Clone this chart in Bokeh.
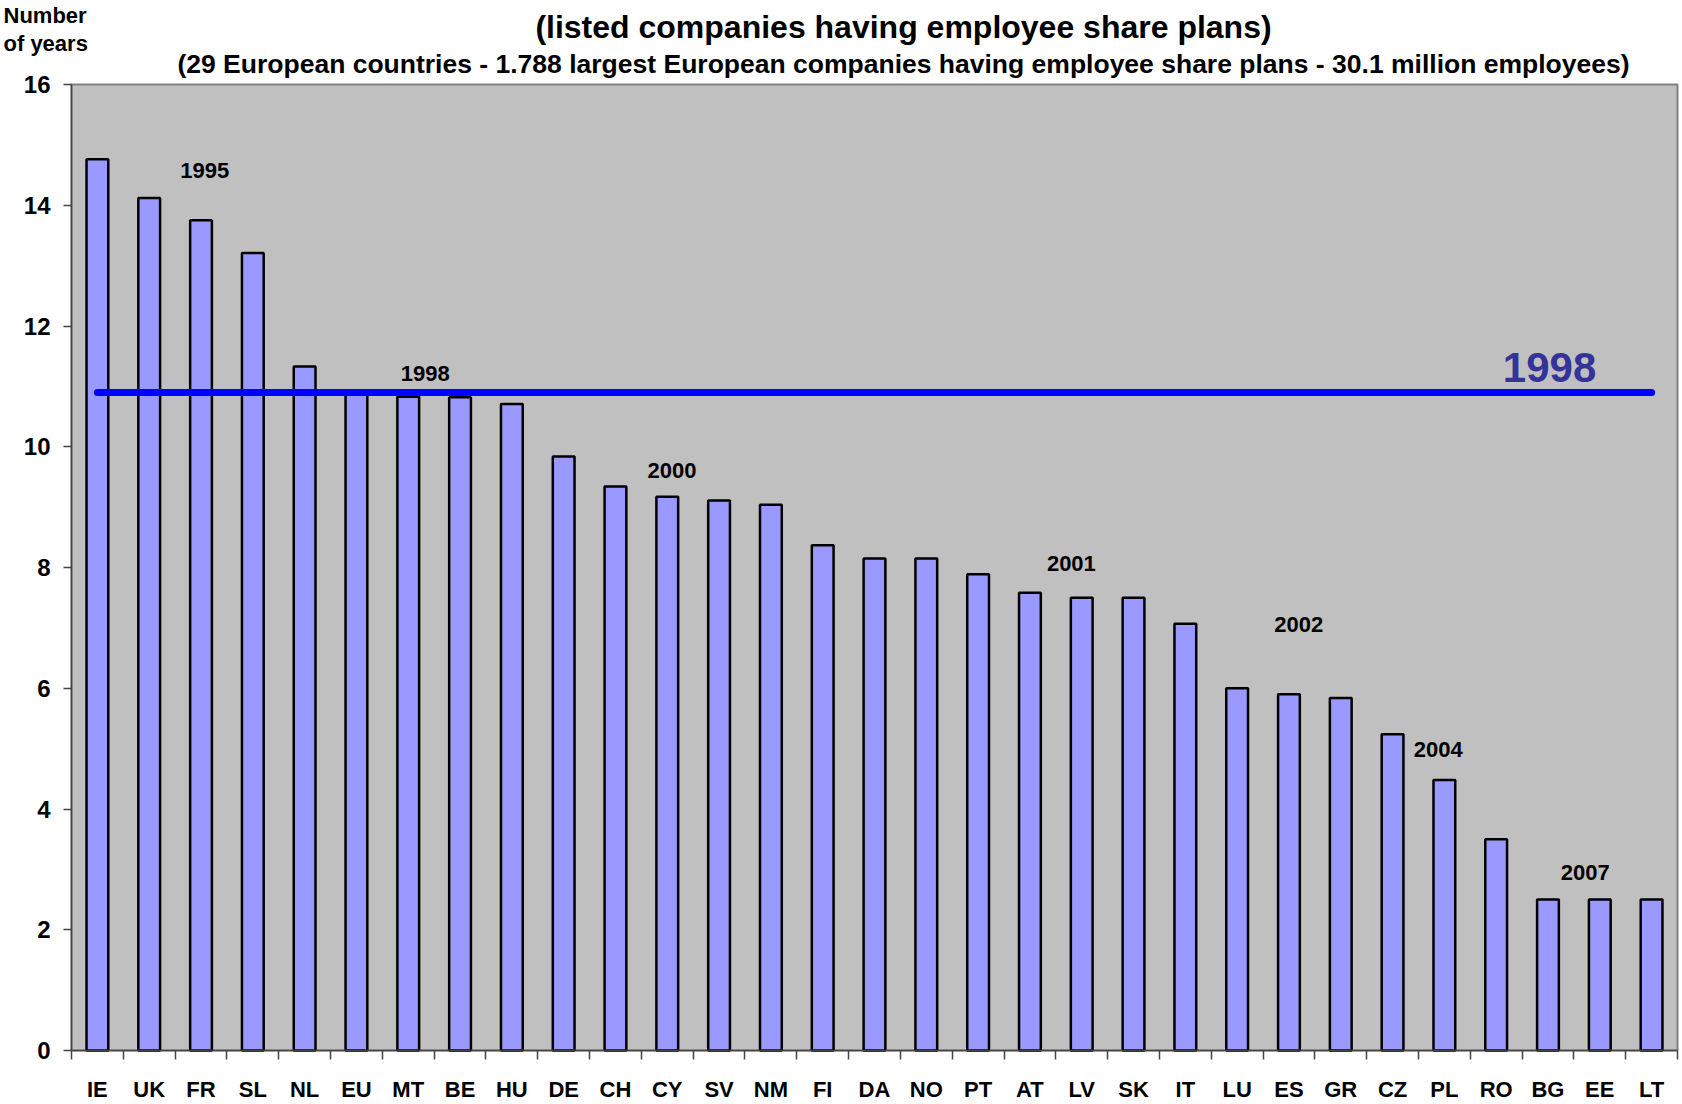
from bokeh.plotting import figure
from bokeh.models import Range1d, FixedTicker, CustomJSTickFormatter, Label, ColumnDataSource, LinearAxis
from bokeh.core.properties import value
from bokeh.embed import file_html
from bokeh.resources import INLINE

# ---- data ----
countries = ["IE", "UK", "FR", "SL", "NL", "EU", "MT", "BE", "HU", "DE", "CH", "CY", "SV", "NM",
             "FI", "DA", "NO", "PT", "AT", "LV", "SK", "IT", "LU", "ES", "GR", "CZ", "PL", "RO",
             "BG", "EE", "LT"]
years = [14.76, 14.12, 13.75, 13.21, 11.33, 10.89, 10.83, 10.82, 10.71, 9.84, 9.34, 9.17, 9.11, 9.04,
         8.37, 8.15, 8.15, 7.89, 7.58, 7.50, 7.50, 7.07, 6.00, 5.90, 5.84, 5.24, 4.48, 3.50,
         2.50, 2.50, 2.50]
eu_average = 10.9
eu_average_label = "1998"
year_labels = ["1995", "1998", "2000", "2001", "2002", "2004", "2007"]
year_label_x = [2.57, 6.83, 11.59, 19.30, 23.69, 26.38, 29.22]
year_label_y = [14.57, 11.22, 9.61, 8.06, 7.05, 4.99, 2.95]
y_ticks = [0, 2, 4, 6, 8, 10, 12, 14, 16]
y_max = 16

title_text = "(listed companies having employee share plans)"
subtitle_text = ("(29 European countries - 1.788 largest European companies having employee share plans"
                 " - 30.1 million employees)")
ylabel_lines = ["Number", "of years"]

# ---- layout (pixels) ----
W, H = 1682, 1104
PL, PR, PT, PB = 71, 1677, 84, 1050   # edges of the grey plotting area
FONT = "Liberation Sans"

n = len(countries)
centers = [i + 0.5 for i in range(n)]
bounds = list(range(n + 1))
ux = (PR - PL) / n
uy = (PB - PT) / y_max

p = figure(width=W, height=H, output_backend="svg", toolbar_location=None,
           x_axis_location=None, y_axis_location=None,
           x_range=Range1d(-PL / ux, n + (W - PR) / ux),
           y_range=Range1d(-(H - PB) / uy, y_max + PT / uy),
           min_border_left=0, min_border_right=0, min_border_top=0, min_border_bottom=0,
           background_fill_color="white", border_fill_color="white",
           outline_line_color=None)
p.title.visible = False
p.grid.visible = False

# grey plotting area
p.quad(left=[0], right=[n], bottom=[0], top=[y_max], fill_color="#C0C0C0",
       line_color="#808080", line_width=2)

src = ColumnDataSource(dict(x=centers, top=years, name=countries))
p.vbar(x="x", top="top", bottom=0, width=0.42, source=src,
       fill_color="#9999FF", line_color="black", line_width=2.5)

p.line(x=[centers[0], centers[-1]], y=[eu_average, eu_average],
       line_color="#0000FF", line_width=7, line_cap="round")

ann = ColumnDataSource(dict(x=year_label_x, y=year_label_y, t=year_labels))
p.text(x="x", y="y", text="t", source=ann, text_font=value(FONT), text_font_style="bold",
       text_font_size="22px", text_color="black", text_align="center", text_baseline="middle")

p.text(x=[28.53], y=[11.32], text=[eu_average_label], text_font=value(FONT), text_font_style="bold",
       text_font_size="42px", text_color="#333399", text_align="center", text_baseline="middle")

# x axis
xa = LinearAxis(fixed_location=0, bounds=(0, n))
xa.ticker = FixedTicker(ticks=centers, minor_ticks=bounds)
xa.formatter = CustomJSTickFormatter(args=dict(labels=countries),
                                     code="return labels[Math.floor(tick)] || '';")
xa.major_tick_line_color = None
xa.major_tick_in = 0
xa.major_tick_out = 0
xa.minor_tick_in = 0
xa.minor_tick_out = 9
xa.minor_tick_line_color = "#444444"
xa.minor_tick_line_width = 1.5
xa.axis_line_color = "#444444"
xa.axis_line_width = 1.5
xa.major_label_standoff = 17
xa.major_label_text_font = FONT
xa.major_label_text_font_style = "bold"
xa.major_label_text_font_size = "22px"
xa.major_label_text_color = "black"
p.add_layout(xa, "below")

# y axis
ya = LinearAxis(fixed_location=0, bounds=(0, y_max))
ya.ticker = FixedTicker(ticks=y_ticks)
ya.major_tick_in = 0
ya.major_tick_out = 8
ya.minor_tick_out = 0
ya.minor_tick_in = 0
ya.major_tick_line_color = "#444444"
ya.major_tick_line_width = 1.5
ya.axis_line_color = "#444444"
ya.axis_line_width = 1.5
ya.major_label_standoff = 13
ya.major_label_text_font = FONT
ya.major_label_text_font_style = "bold"
ya.major_label_text_font_size = "24px"
ya.major_label_text_color = "black"
p.add_layout(ya, "left")

# titles and axis label (placed relative to the grey area's top edge)
def top_label(text, x, x_offset, y_offset, size, align):
    p.add_layout(Label(x=x, y=y_max, x_offset=x_offset, y_offset=y_offset, text=text,
                       text_font=FONT, text_font_style="bold", text_font_size=size,
                       text_align=align, text_baseline="alphabetic", text_color="black"))

top_label(title_text, n / 2, 29, 58, "32px", "center")
top_label(subtitle_text, n / 2, 29, 21, "26.5px", "center")
top_label(ylabel_lines[0], 0, -68, 69, "22px", "left")
top_label(ylabel_lines[1], 0, -68, 41, "22px", "left")

open("out.html", "w").write(file_html(p, INLINE))
